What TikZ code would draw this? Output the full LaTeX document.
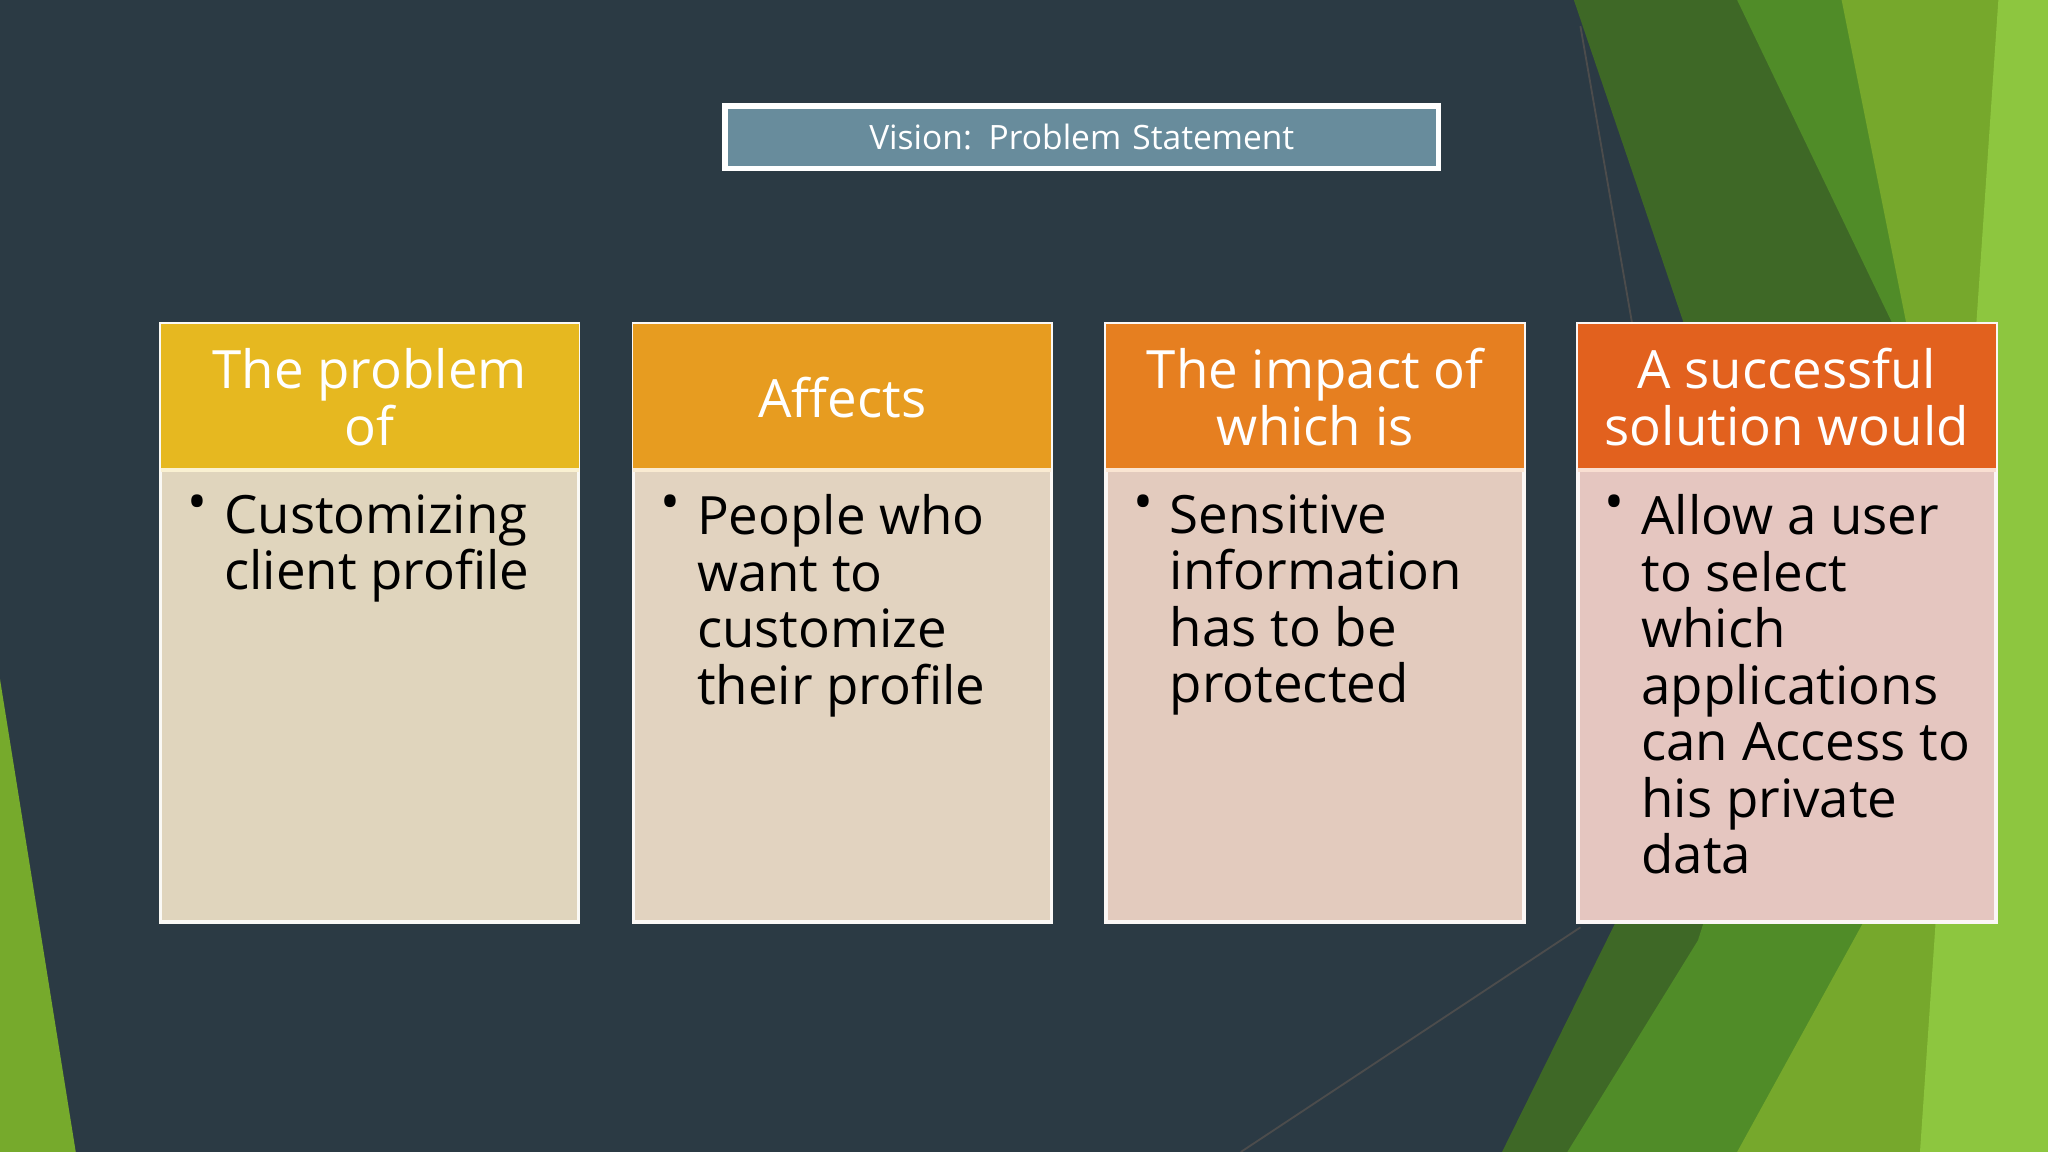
\documentclass[tikz,border=0pt]{standalone}
\usepackage{fontspec}
\setmainfont{Open Sans}
\begin{document}
\begin{tikzpicture}[x=0.01cm,y=-0.01cm,
  hdrtext/.style={text=white,font=\fontsize{11.5}{12.3}\selectfont,align=center},
  bodytext/.style={text=black,font=\fontsize{11.5}{12.3}\selectfont,align=left,anchor=north west,inner sep=0pt}]
\definecolor{bg}{HTML}{2B3A44}
\fill[bg] (0,0) rectangle (1568,882);
\useasboundingbox (0,0) rectangle (1568,882);
% greens
\fill[color={rgb,255:red,62;green,104;blue,38}] (1205,0)--(1568,0)--(1568,882)--(1150,882)--(1240,700)--(1290,250)--cycle;
\fill[color={rgb,255:red,80;green,140;blue,40}] (1330,0)--(1568,0)--(1568,882)--(1200,882)--(1300,720)--(1450,250)--cycle;
\fill[color={rgb,255:red,118;green,168;blue,44}] (1410,0)--(1568,0)--(1568,882)--(1330,882)--(1430,700)--(1460,250)--cycle;
\fill[color={rgb,255:red,141;green,198;blue,63}] (1530,0)--(1568,0)--(1568,882)--(1470,882)--cycle;
\fill[color={rgb,255:red,118;green,170;blue,44}] (0,520)--(58,882)--(0,882)--cycle;
\coordinate (l1a) at (1210,20); \coordinate (l1b) at (1250,250);
\coordinate (l2a) at (950,882); \coordinate (l2b) at (1210,710);
\draw[black!70,line width=0.4pt] (l1a)--(l1b) (l2a)--(l2b);
% title
\node[fill={rgb,255:red,104;green,140;blue,156},draw=white,line width=1.2pt,minimum height=0.48cm,text=white,font=\fontsize{7.3}{8}\selectfont,anchor=north west,inner sep=0pt,text width=5.46cm,align=center] (title) at (553,79) {Vision: Problem Statement};
% boxes
\foreach \i/\x/\hc/\bc/\htx/\bd in {
 1/123/E6B820/E0D5BD/{The problem\\of}/{Customizing\\client profile},
 2/485/E79C20/E2D3C0/{Affects}/{People who\\want to\\customize\\their profile},
 3/847/E67F20/E3CBBE/{The impact of\\which is}/{Sensitive\\information\\has to be\\protected},
 4/1208/E2611E/E5C6C0/{A successful\\solution would}/{Allow a user\\to select\\which\\applications\\can Access to\\his private\\data}}{
  \definecolor{hc\i}{HTML}{\hc}\definecolor{bc\i}{HTML}{\bc}
  \fill[bc\i] (\x,360) rectangle ++(320,346);
  \draw[white!85!bc\i,line width=0.8pt] (\x,248) rectangle ++(320,458);
  \fill[hc\i] (\x,248) rectangle ++(320,112);
  \draw[white!80!hc\i,line width=0.8pt] (\x,360)--++(320,0);
  \node[hdrtext] (h\i) at (\x+160,304) {\htx};
  \node[bodytext] (bl\i) at (\x+20,378) {•};
  \node[bodytext] (b\i) at (\x+48,378) {\bd};
}
\end{tikzpicture}
\end{document}
